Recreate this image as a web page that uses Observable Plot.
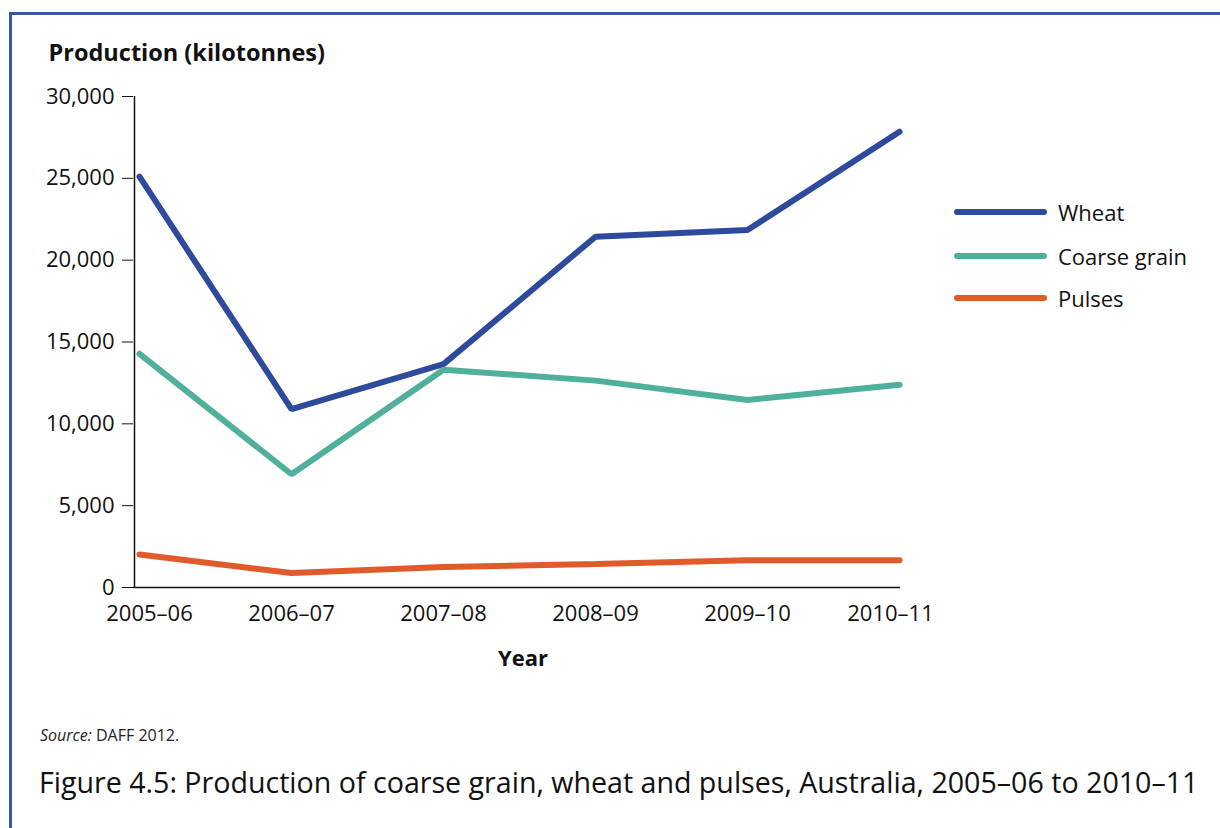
<!DOCTYPE html>
<html><head><meta charset="utf-8">
<script src="https://cdn.jsdelivr.net/npm/d3@7"></script>
<script src="https://cdn.jsdelivr.net/npm/@observablehq/plot@0.6"></script>
<style>
html,body{margin:0;padding:0;background:#fff;}
body{width:1220px;height:828px;position:relative;overflow:hidden;font-family:"Open Sans",sans-serif;color:#111;}
#frame{position:absolute;left:9px;top:12px;width:1215px;height:820px;border-top:3px solid #3a53a4;border-left:3px solid #3a53a4;}
#chart{position:absolute;left:0;top:0;}
#chart svg{overflow:visible;}
.leg{position:absolute;left:952px;height:30px;display:flex;align-items:center;font-size:22px;}
.leg svg{margin-right:9px;}
#source{position:absolute;left:40px;top:724px;font-size:16px;color:#222;}
#caption{position:absolute;left:39px;top:762px;font-size:28.6px;white-space:nowrap;color:#111;}
</style>
</head><body>
<div id="frame"></div>
<div id="chart"></div>
<div id="legend"></div>
<div id="source"><i>Source:</i> DAFF 2012.</div>
<div id="caption">Figure 4.5: Production of coarse grain, wheat and pulses, Australia, 2005–06 to 2010–11</div>
<script>
const years = ["2005–06","2006–07","2007–08","2008–09","2009–10","2010–11"];
const wheat = [25100, 10900, 13650, 21430, 21840, 27850];
const coarseGrain = [14280, 6920, 13310, 12640, 11460, 12390];
const pulses = [2020, 880, 1250, 1430, 1670, 1660];
const seriesNames = ["Wheat", "Coarse grain", "Pulses"];
const seriesColors = ["#2e4a9c", "#4fb09b", "#e05a2b"];
const yTicks = [0, 5000, 10000, 15000, 20000, 25000, 30000];
const yLabel = "Production (kilotonnes)";
const xLabel = "Year";

const seriesValues = [wheat, coarseGrain, pulses];
const data = seriesNames.flatMap((s, i) => years.map((yr, j) => ({series: s, year: yr, value: seriesValues[i][j]})));

const chart = Plot.plot({
  width: 1220,
  height: 680,
  marginLeft: 133,
  marginRight: 320,
  marginTop: 96,
  marginBottom: 93,
  insetLeft: 5,
  style: {fontFamily: "'Open Sans', sans-serif", fontSize: "22px", color: "#111", background: "transparent", overflow: "visible"},
  x: {type: "point", domain: years, padding: 0},
  y: {domain: [0, 30000]},
  color: {domain: seriesNames, range: seriesColors},
  marks: [
    Plot.axisY({ticks: yTicks, tickSize: 11, tickPadding: 8, tickFormat: d3.format(","), label: null, fontSize: 22, stroke: "#111"}),
    Plot.axisX(years.slice(1, 5), {tickSize: 0, tickPadding: 18, label: null, fontSize: 22}),
    Plot.axisX(years.slice(0, 1), {tickSize: 0, tickPadding: 18, label: null, fontSize: 22, dx: 10}),
    Plot.axisX(years.slice(5), {tickSize: 0, tickPadding: 18, label: null, fontSize: 22, dx: -9}),
    Plot.text([yLabel], {text: d => d, frameAnchor: "top-left", textAnchor: "start", lineAnchor: "middle", dx: -85, dy: -43, fontSize: 23.5, fontWeight: "bold", fill: "#111"}),
    Plot.text([xLabel], {text: d => d, frameAnchor: "bottom", lineAnchor: "middle", dx: 6, dy: 71, fontSize: 22, fontWeight: "bold", fill: "#111"}),
    Plot.ruleX(years.slice(0, 1), {y1: 0, y2: 30000, dx: -5, stroke: "#111", strokeWidth: 1.5}),
    Plot.ruleY([0], {stroke: "#111", strokeWidth: 1.5}),
    Plot.line(data, {x: "year", y: "value", z: "series", stroke: "series", strokeWidth: 6, strokeLinecap: "round", strokeLinejoin: "miter"})
  ]
});
document.getElementById("chart").appendChild(chart);

const legend = document.getElementById("legend");
const legTops = [197, 241, 283];
seriesNames.forEach((s, i) => {
  const d = document.createElement("div");
  d.className = "leg";
  d.style.top = legTops[i] + "px";
  d.innerHTML = `<svg width="97" height="10"><line x1="5" y1="5" x2="92" y2="5" stroke="${seriesColors[i]}" stroke-width="6" stroke-linecap="round"/></svg><span>${s}</span>`;
  legend.appendChild(d);
});
</script>
</body></html>
